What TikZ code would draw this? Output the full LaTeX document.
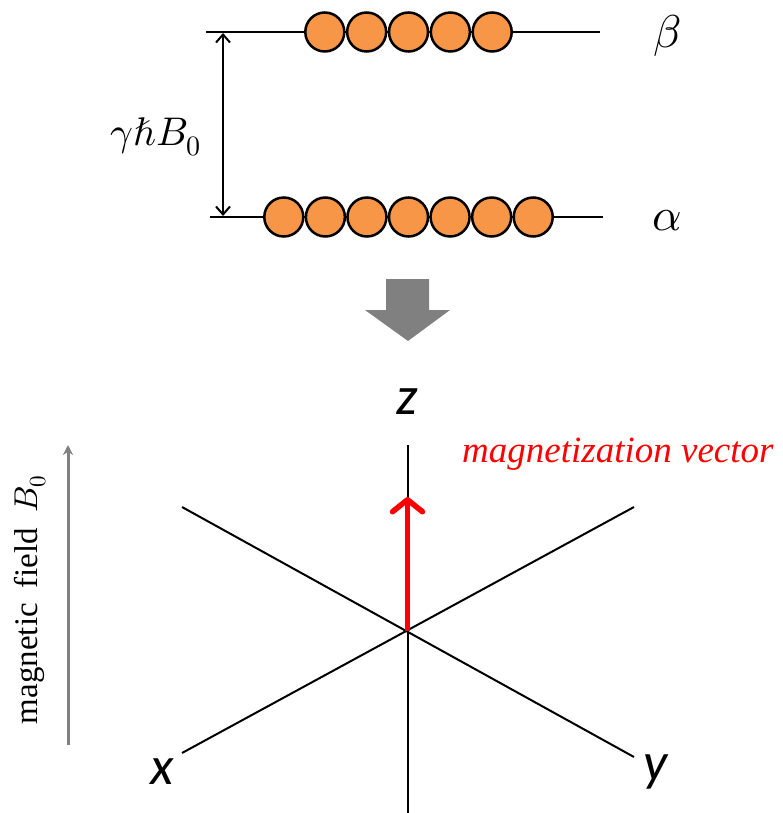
\documentclass[tikz,border=0pt]{standalone}
\usepackage{fontspec}
\usepackage{unicode-math}
\setmainfont{Liberation Serif}
\setmathfont{Latin Modern Math}
\newfontfamily\calib{Carlito}
\usetikzlibrary{arrows.meta}
\definecolor{orangeball}{HTML}{F79646}
\definecolor{arrowgray}{HTML}{808080}
\begin{document}
\begin{tikzpicture}[x=1pt,y=-1pt,
  ball/.style={circle,draw=black,line width=2.5pt,fill=orangeball,minimum size=39pt,inner sep=0pt},
  levelline/.style={line width=2pt},
  axisline/.style={line width=2pt},
  axlabel/.style={font=\calib\itshape\fontsize{54}{54}\selectfont,inner sep=0pt},
  statelabel/.style={font=\fontsize{46}{46}\selectfont,inner sep=0pt},
]
\useasboundingbox (0,0) rectangle (782,813);
% energy levels
\coordinate (b1) at (206,32);
\coordinate (b2) at (600,32);
\coordinate (a1) at (210,217);
\coordinate (a2) at (603,217);
\draw[levelline] (b1) -- (b2);
\draw[levelline] (a1) -- (a2);
\foreach \i in {0,...,4} \node[ball] (bb\i) at (324.8+41.85*\i,32) {};
\foreach \i in {0,...,6} \node[ball] (ab\i) at (283.8+41.57*\i,217) {};
\coordinate (gt) at (223,33);
\coordinate (gb) at (223,216);
\draw[line width=2pt,{Straight Barb[length=8pt,width=14pt]}-{Straight Barb[length=8pt,width=14pt]}] (gt) -- (gb);
\node[font=\fontsize{40}{40}\selectfont,anchor=base west,inner sep=0pt] (gap) at (110,146) {$\gamma\hbar B_0$};
\node[statelabel] (beta) at (667,36) {$\beta$};
\node[statelabel] (alpha) at (667,221) {$\alpha$};
% big gray arrow
\fill[arrowgray] (386,279) -- (429,279) -- (429,310) -- (450,310) -- (408,341) -- (365,310) -- (386,310) -- cycle;
% axes
\coordinate (o) at (407.5,630.5);
\coordinate (ztop) at (407.5,445);
\coordinate (zbot) at (407.5,813);
\coordinate (xul) at (182,507);
\coordinate (xlr) at (634,757);
\coordinate (yll) at (182,753);
\coordinate (yur) at (634,507);
\draw[axisline] (ztop) -- (zbot);
\draw[axisline] (xul) -- (xlr);
\draw[axisline] (yll) -- (yur);
\node[axlabel] (zl) at (407,402) {z};
\node[axlabel] (xl) at (162,772) {x};
\node[axlabel] (yl) at (656,772) {y};
% magnetization vector
\coordinate (mv) at (407.5,497);
\draw[red,line width=5.5pt,-{Straight Barb[length=12pt,width=30pt,round]}] (o) -- (mv);
\node[text=red,font=\itshape\fontsize{37}{37}\selectfont,anchor=base west,inner sep=0pt] (mlab) at (462,462) {magnetization vector};
% magnetic field
\coordinate (mf1) at (68,745);
\coordinate (mf2) at (68,445);
\draw[arrowgray,line width=3pt,-{Stealth[length=10pt,width=10pt]}] (mf1) -- (mf2);
\node[rotate=90,anchor=base,inner sep=0pt,font=\fontsize{33}{33}\selectfont] (mflab) at (37,600) {magnetic\hspace{0.45em}field\hspace{0.45em}$B_0$};
\end{tikzpicture}
\end{document}
